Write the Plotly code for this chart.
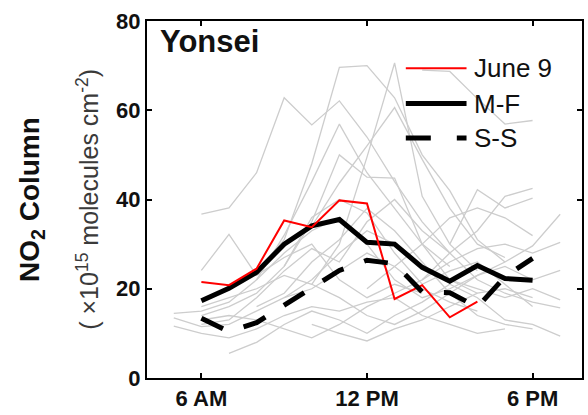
import plotly.graph_objects as go

N = None
# hourly grid for individual days (5 AM .. 7 PM)
gray_hours = list(range(5, 20))
gray_days = [
    [N, 36.7, 38.1, 46.0, 62.8, 56.7, 62.1, 54.0, 44.0, 35.0, 28.0, N, N, N, N],
    [N, N, N, 24.0, 31.0, 48.0, 69.6, 70.0, 62.8, 50.0, 42.0, 31.0, 26.0, N, N],
    [N, N, N, N, N, 21.0, 30.0, 49.5, 70.6, 40.7, 30.0, 24.0, N, N, N],
    [N, N, N, 22.0, 32.0, 44.0, 56.9, 46.0, 38.0, 30.0, 25.0, N, N, N, N],
    [N, N, N, N, N, 34.0, 43.7, 52.0, 60.6, 49.0, 38.0, 30.0, 27.0, N, N],
    [N, N, N, N, 25.0, 35.0, 50.0, 45.0, 44.8, 30.0, 22.0, 19.0, N, N, N],
    [N, 24.1, 32.2, 23.0, 27.0, 30.0, 22.0, 18.0, 21.0, 19.0, N, N, N, N, N],
    [13.5, 11.5, 12.0, 15.0, 18.0, 20.0, 24.0, 28.0, 25.0, 20.0, 17.0, 15.0, N, N, N],
    [11.6, 10.0, 9.0, 11.0, 14.0, 16.0, 15.0, 17.0, 18.0, 14.0, 12.0, 10.0, 11.0, N, N],
    [14.5, 15.0, 17.0, 22.0, 28.0, 33.0, 36.0, 30.0, 22.0, 18.0, 20.0, 23.0, 25.0, 22.0, 24.1],
    [N, 13.0, 14.0, 13.0, 11.0, 9.0, 12.0, 16.0, 19.0, 22.0, 26.0, 29.0, 30.0, 28.0, 30.4],
    [N, N, 5.5, 8.0, 12.0, 15.0, 13.0, 10.0, 14.0, 17.0, 21.0, 18.0, 13.0, 12.0, 9.4],
    [N, 12.0, 13.0, 18.0, 24.0, 29.0, 26.0, 35.0, 40.0, 33.0, 28.0, 22.0, 19.0, 17.0, 15.7],
    [N, 16.0, 18.0, 20.0, 23.0, 21.0, 18.0, 14.0, 12.0, 15.0, 19.0, 23.0, 26.0, 29.6, 36.7],
    [N, N, N, N, N, N, N, 20.0, 25.0, 30.0, 35.9, 38.1, 35.9, 31.9, N],
    [N, N, N, N, N, N, N, N, N, 22.0, 28.0, 33.0, 40.7, 42.5, N],
    [N, N, N, N, N, N, N, N, N, N, 30.0, 42.2, 38.1, 40.3, N],
    [N, N, N, N, 18.0, 22.0, 28.0, 33.0, 30.0, 25.0, 22.0, 20.0, 18.0, 20.0, 17.5],
    [N, N, N, 16.0, 19.0, 26.0, 31.0, 38.0, 33.0, 26.0, 19.0, 14.0, 12.0, 11.0, N],
    [N, N, N, N, N, 12.0, 10.0, 8.3, 11.0, 13.0, 16.0, 19.0, 20.0, 18.0, N],
    [N, 14.0, 16.0, 19.0, 25.0, 36.0, 40.0, 37.0, 28.0, 21.0, 24.0, 26.0, 21.0, 16.0, N],
    [N, N, N, N, N, N, N, N, N, 69.0, 68.7, 62.6, 56.9, 57.7, N],
]

hours = list(range(6, 19))
june9 = [21.5, 20.8, 24.5, 35.3, 33.8, 39.8, 39.1, 17.7, 20.8, 13.6, 17.1, N, N]
mon_fri = [17.3, 20.1, 23.7, 30.0, 34.1, 35.5, 30.4, 30.0, 24.8, 21.7, 25.2, 22.3, 21.9]
sat_sun = [13.4, 10.4, 12.4, 16.4, 20.1, 24.1, 26.4, 25.6, 19.3, 19.1, 15.9, 22.7, 26.8]

tick_vals = [6, 12, 18]
tick_text = ["6 AM", "12 PM", "6 PM"]
legend_names = ["June 9", "M-F", "S-S"]

FONT = "Liberation Sans, Arial, Helvetica, sans-serif"
W, H = 588, 415
L, R, T, B = 147, 4, 21, 31
PW, PH = W - L - R, H - T - B


def px(xp):
    return (xp - L) / PW


def py(yp):
    return (H - B - yp) / PH


fig = go.Figure()
for day in gray_days:
    fig.add_trace(go.Scatter(x=gray_hours, y=day, mode="lines",
                             line=dict(color="#cdcdcd", width=1.3),
                             showlegend=False, hoverinfo="skip"))

fig.add_trace(go.Scatter(x=hours, y=mon_fri, mode="lines", name=legend_names[1],
                         line=dict(color="black", width=5), showlegend=False))
fig.add_trace(go.Scatter(x=hours, y=june9, mode="lines", name=legend_names[0],
                         line=dict(color="#ff0000", width=2), showlegend=False))
fig.add_trace(go.Scatter(x=hours, y=sat_sun, mode="lines", name=legend_names[2],
                         line=dict(color="black", width=5, dash="24px,22px"),
                         showlegend=False))

# manual legend
rows = [69, 105, 140]
styles = [dict(color="#ff0000", width=2),
          dict(color="black", width=5),
          dict(color="black", width=5, dash="25px,26px")]
for ry, st, name in zip(rows, styles, legend_names):
    fig.add_shape(type="line", xref="paper", yref="paper",
                  x0=px(407), x1=px(468), y0=py(ry), y1=py(ry), line=st)
    fig.add_annotation(xref="paper", yref="paper", x=px(473), y=py(ry),
                       text=name, showarrow=False, xanchor="left", yanchor="middle",
                       font=dict(family=FONT, size=26, color="#111111"))

fig.add_annotation(xref="paper", yref="paper", x=px(158), y=py(42),
                   text="<b>Yonsei</b>", showarrow=False, xanchor="left",
                   yanchor="middle", font=dict(family=FONT, size=31, color="#111111"))

fig.add_annotation(xref="paper", yref="paper", x=px(31), y=0.5,
                   text="<b>NO<sub>2</sub> Column</b>", showarrow=False, textangle=-90,
                   xanchor="center", yanchor="middle",
                   font=dict(family=FONT, size=28, color="#111111"))
fig.add_annotation(xref="paper", yref="paper", x=px(87), y=0.5,
                   text="( \u00d710<sup>15</sup> molecules cm<sup>-2</sup>)",
                   showarrow=False, textangle=-90, xanchor="center", yanchor="middle",
                   font=dict(family=FONT, size=25, color="#3a3a3a"))

axis_common = dict(showline=True, linecolor="black", linewidth=2, mirror="allticks",
                   ticks="inside", ticklen=5, tickwidth=2, tickcolor="black",
                   showgrid=False, zeroline=False,
                   tickfont=dict(family=FONT, size=22, color="#111111", weight="bold"))

fig.update_xaxes(range=[4.03, 19.79], tickvals=tick_vals, ticktext=tick_text, **axis_common)
fig.update_yaxes(range=[0, 80], tickvals=[0, 20, 40, 60, 80], **axis_common)

fig.update_layout(width=W, height=H, margin=dict(l=L, r=R, t=T, b=B),
                  paper_bgcolor="white", plot_bgcolor="white", showlegend=False)

fig.write_html("out.html")
